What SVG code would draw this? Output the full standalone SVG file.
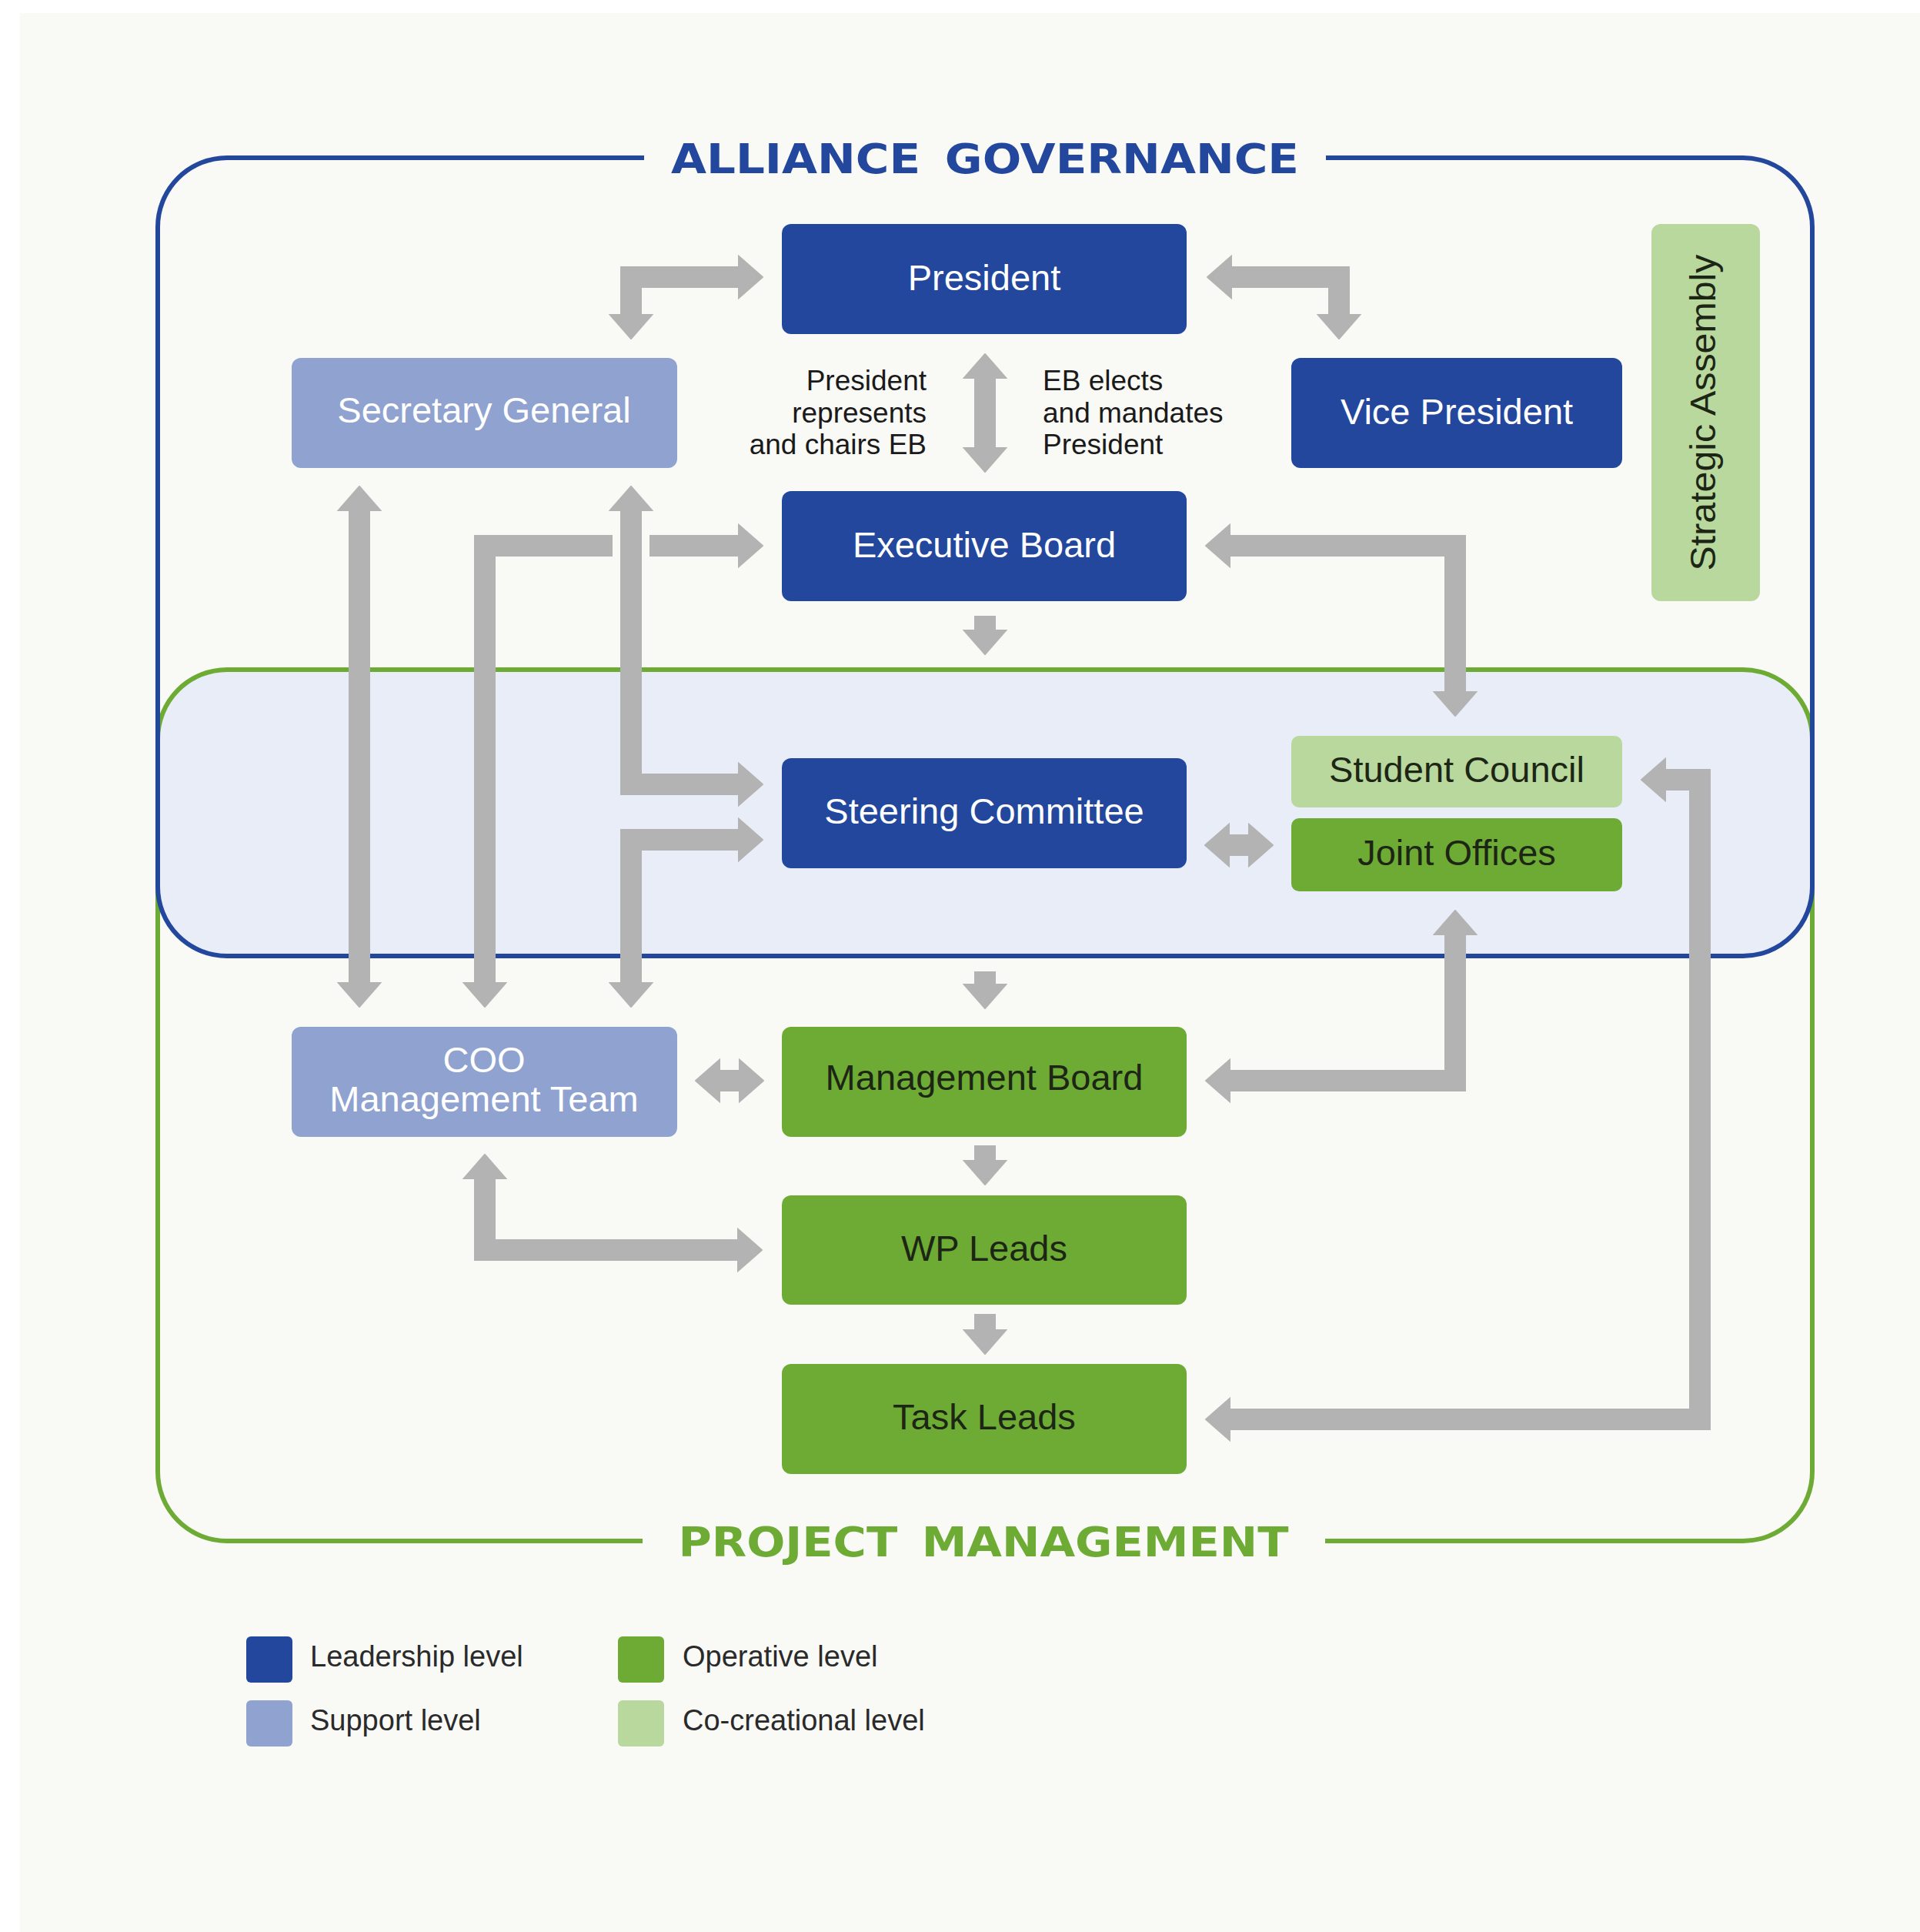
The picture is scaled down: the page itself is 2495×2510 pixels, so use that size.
<svg xmlns="http://www.w3.org/2000/svg" width="2495" height="2510" viewBox="0 0 2495 2510">
<defs>
<style>
.bg{fill:#f9f9f6}
.lead{fill:#22479d}
.sup{fill:#8fa2d0}
.op{fill:#6dab35}
.co{fill:#b8d89d}
.t{font-family:"Liberation Sans",Arial,sans-serif;font-size:47px;text-anchor:middle}
.tw{fill:#ffffff}
.td{fill:#1d2615}
.note{font-family:"Liberation Sans",Arial,sans-serif;font-size:37px;fill:#1a1a1a}
.leg{font-family:"Liberation Sans",Arial,sans-serif;font-size:38px;fill:#2a2a2a}
.title{font-family:"DejaVu Sans",Verdana,sans-serif;font-weight:bold;font-size:54px;text-anchor:middle;word-spacing:10px}
.arr{fill:none;stroke:#b3b3b3;stroke-width:28;stroke-linejoin:miter;marker-end:url(#ah)}
.both{marker-start:url(#ah)}
</style>
<marker id="ah" viewBox="0 0 33 58" markerWidth="33" markerHeight="58" refX="1" refY="29" markerUnits="userSpaceOnUse" orient="auto-start-reverse">
<path d="M0,1 L32,29 L0,57 Z" fill="#b3b3b3" stroke="#b3b3b3" stroke-width="2" stroke-linejoin="round"/>
</marker>
</defs>
<rect x="0" y="0" width="2495" height="2510" fill="#ffffff"/>
<rect class="bg" x="26" y="17" width="2469" height="2493"/>

<g id="containers">
<rect x="205" y="870" width="2150" height="372" rx="90" ry="90" fill="#e8edf7"/>
<path d="M835,2002 H295 A90,90 0 0 1 205,1912 V960 A90,90 0 0 1 295,870 H2265 A90,90 0 0 1 2355,960 V1912 A90,90 0 0 1 2265,2002 H1722" fill="none" stroke="#6dab35" stroke-width="6"/>
<path d="M837,205 H295 A90,90 0 0 0 205,295 V1152 A90,90 0 0 0 295,1242 H2265 A90,90 0 0 0 2355,1152 V295 A90,90 0 0 0 2265,205 H1723" fill="none" stroke="#22479d" stroke-width="6"/>
<text class="title" x="1280" y="225" fill="#22479d" textLength="816" lengthAdjust="spacingAndGlyphs">ALLIANCE GOVERNANCE</text>
<text class="title" x="1278" y="2022" fill="#6dab35" textLength="793" lengthAdjust="spacingAndGlyphs">PROJECT MANAGEMENT</text>
</g>

<g id="connectors">
<path class="arr both" d="M960,360 H820 V409"/>
<path class="arr both" d="M1600,360 H1740 V409"/>
<path class="arr both" d="M1280,491 V582"/>
<path class="arr" d="M1280,800 V819"/>
<path class="arr both" d="M1598,709 H1891 V899"/>
<path class="arr both" d="M467,663 V1277"/>
<path class="arr both" d="M960,709 H630 V1277"/>
<rect class="bg" x="796" y="690" width="48" height="38"/>
<path class="arr both" d="M820,663 V1019 H960"/>
<path class="arr both" d="M960,1091 H820 V1277"/>
<path class="arr both" d="M1597,1098 H1623"/>
<path class="arr" d="M1280,1262 V1279"/>
<path class="arr both" d="M935,1404 H961"/>
<path class="arr both" d="M1891,1214 V1404 H1598"/>
<path class="arr" d="M1280,1488 V1508"/>
<path class="arr both" d="M630,1531 V1624 H959"/>
<path class="arr" d="M1280,1707 V1728"/>
<path class="arr both" d="M2164,1013 H2209 V1844 H1598"/>
</g>

<g id="president">
<rect class="lead" x="1016" y="291" width="526" height="143" rx="12"/>
<text class="t tw" x="1279" y="377">President</text>
</g>
<g id="vice-president">
<rect class="lead" x="1678" y="465" width="430" height="143" rx="12"/>
<text class="t tw" x="1893" y="551">Vice President</text>
</g>
<g id="secretary-general">
<rect class="sup" x="379" y="465" width="501" height="143" rx="12"/>
<text class="t tw" x="629" y="549">Secretary General</text>
</g>
<g id="strategic-assembly">
<rect class="co" x="2146" y="291" width="141" height="490" rx="12"/>
<text class="t td" transform="translate(2229,536) rotate(-90)" textLength="411" lengthAdjust="spacingAndGlyphs">Strategic Assembly</text>
</g>
<g id="executive-board">
<rect class="lead" x="1016" y="638" width="526" height="143" rx="12"/>
<text class="t tw" x="1279" y="724">Executive Board</text>
</g>
<g id="eb-note-left">
<text class="note" text-anchor="end" x="1204" y="507">President</text>
<text class="note" text-anchor="end" x="1204" y="549">represents</text>
<text class="note" text-anchor="end" x="1204" y="590">and chairs EB</text>
</g>
<g id="eb-note-right">
<text class="note" x="1355" y="507">EB elects</text>
<text class="note" x="1355" y="549">and mandates</text>
<text class="note" x="1355" y="590">President</text>
</g>
<g id="steering-committee">
<rect class="lead" x="1016" y="985" width="526" height="143" rx="12"/>
<text class="t tw" x="1279" y="1070">Steering Committee</text>
</g>
<g id="student-council">
<rect class="co" x="1678" y="956" width="430" height="93" rx="10"/>
<text class="t td" x="1893" y="1016">Student Council</text>
</g>
<g id="joint-offices">
<rect class="op" x="1678" y="1063" width="430" height="95" rx="10"/>
<text class="t td" x="1893" y="1124">Joint Offices</text>
</g>
<g id="coo-management-team">
<rect class="sup" x="379" y="1334" width="501" height="143" rx="12"/>
<text class="t tw" x="629" y="1393">COO</text>
<text class="t tw" x="629" y="1444">Management Team</text>
</g>
<g id="management-board">
<rect class="op" x="1016" y="1334" width="526" height="143" rx="12"/>
<text class="t td" x="1279" y="1416">Management Board</text>
</g>
<g id="wp-leads">
<rect class="op" x="1016" y="1553" width="526" height="142" rx="12"/>
<text class="t td" x="1279" y="1638">WP Leads</text>
</g>
<g id="task-leads">
<rect class="op" x="1016" y="1772" width="526" height="143" rx="12"/>
<text class="t td" x="1279" y="1857">Task Leads</text>
</g>

<g id="legend">
<rect class="lead" x="320" y="2126" width="60" height="60" rx="6"/>
<text class="leg" x="403" y="2165">Leadership level</text>
<rect class="sup" x="320" y="2209" width="60" height="60" rx="6"/>
<text class="leg" x="403" y="2248">Support level</text>
<rect class="op" x="803" y="2126" width="60" height="60" rx="6"/>
<text class="leg" x="887" y="2165">Operative level</text>
<rect class="co" x="803" y="2209" width="60" height="60" rx="6"/>
<text class="leg" x="887" y="2248">Co-creational level</text>
</g>
</svg>
